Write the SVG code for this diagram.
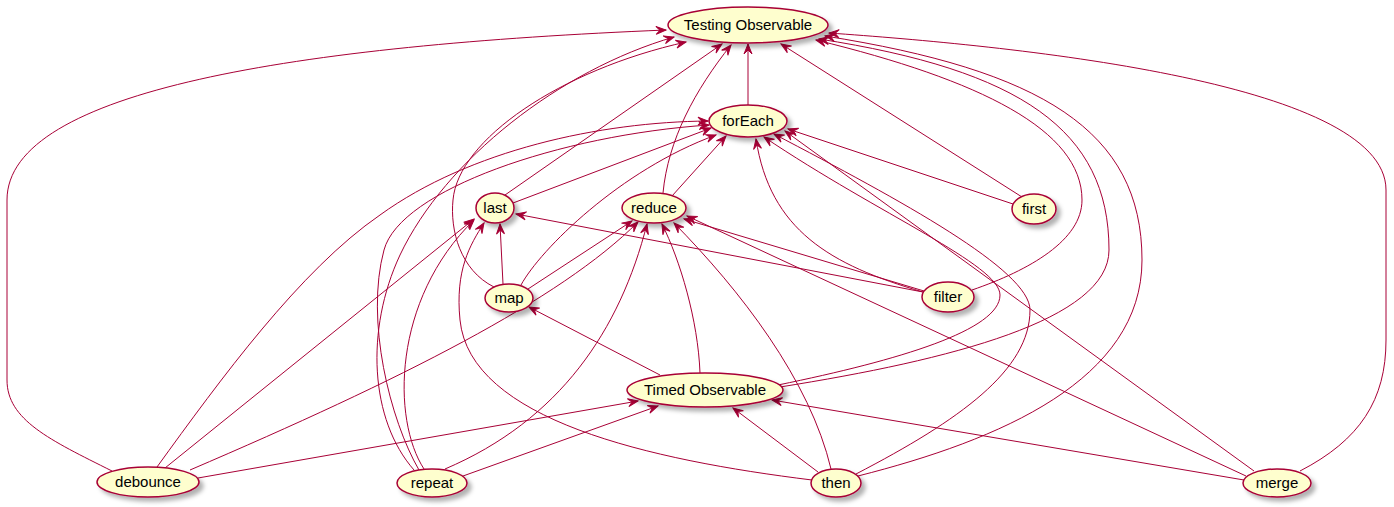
<svg xmlns="http://www.w3.org/2000/svg" width="1394" height="507" viewBox="0 0 1394 507">
<style>
.e{fill:none;stroke:#A80036;stroke-width:1;marker-end:url(#arr)}
.n ellipse{fill:#FEFECE;stroke:#A80036;stroke-width:1.5;filter:url(#sh)}
.n text{font-family:"Liberation Sans","Open Sans",sans-serif;font-size:15px;fill:#000;text-anchor:middle}
</style>
<defs>
<marker id="arr" markerUnits="userSpaceOnUse" viewBox="-1 -1 12 10" refX="10" refY="4" markerWidth="12" markerHeight="10" orient="auto" overflow="visible">
<path d="M0,0 L10,4 L0,8 L4,4 Z" fill="#A80036" stroke="#A80036" stroke-width="1" stroke-linejoin="miter"/>
</marker>
<filter id="sh" x="-20%" y="-30%" width="150%" height="180%">
<feDropShadow dx="4" dy="4" stdDeviation="2" flood-color="#000" flood-opacity="0.3"/>
</filter>
</defs>
<rect width="1394" height="507" fill="#fff"/>
<g id="connectors">
<path class="e" d="M112,471 C50,440 7,420 7,380 L7,200 C7,90 300,45 666,30"/>
<path class="e" d="M748,105 L748,44"/>
<path class="e" d="M505,195 L722,44"/>
<path class="e" d="M494,287 C460,270 450,230 453,200 C458,140 560,70 686,42"/>
<path class="e" d="M414,470 C370,420 365,330 400,255 C445,160 560,70 674,37"/>
<path class="e" d="M663,193 C668,140 695,90 731,45"/>
<path class="e" d="M1022,197 L781,44"/>
<path class="e" d="M972,290 C1030,270 1082,240 1082,200 C1082,130 980,80 816,40"/>
<path class="e" d="M780,387 C950,360 1109,320 1109,250 C1109,130 1020,70 819,39"/>
<path class="e" d="M858,476 C1000,440 1142,380 1142,260 C1142,130 1040,70 825,36"/>
<path class="e" d="M1300,471 C1360,440 1386,400 1386,340 L1386,190 C1386,80 1000,45 829,33"/>
<path class="e" d="M157,467 C220,380 300,270 380,215 C470,150 600,122 708,121"/>
<path class="e" d="M419,470 C390,420 365,320 384,250 C400,190 560,135 709,125"/>
<path class="e" d="M513,203 L711,128"/>
<path class="e" d="M521,285 C540,250 620,170 716,135"/>
<path class="e" d="M672,196 L726,136"/>
<path class="e" d="M923,292 C830,265 770,230 756,139"/>
<path class="e" d="M778,385 C900,360 1000,330 1000,295 C1000,265 880,215 764,137"/>
<path class="e" d="M856,474 C960,420 1030,370 1030,310 C1030,270 900,200 774,134"/>
<path class="e" d="M1254,471 L785,131"/>
<path class="e" d="M1013,204 L788,129"/>
<path class="e" d="M165,468 L474,219"/>
<path class="e" d="M424,469 C392,420 392,300 474,220"/>
<path class="e" d="M812,480 C650,460 470,420 460,320 C455,270 470,245 484,223"/>
<path class="e" d="M503,284 L500,224"/>
<path class="e" d="M923,292 L516,214"/>
<path class="e" d="M528,289 L632,221"/>
<path class="e" d="M190,470 C400,380 560,300 638,222"/>
<path class="e" d="M445,469 C560,420 620,330 647,224"/>
<path class="e" d="M700,373 C698,320 680,260 662,224"/>
<path class="e" d="M831,469 C810,380 740,290 674,223"/>
<path class="e" d="M924,291 L684,219"/>
<path class="e" d="M1246,476 L687,216"/>
<path class="e" d="M660,375 L529,307"/>
<path class="e" d="M198,478 L638,401"/>
<path class="e" d="M463,476 L658,406"/>
<path class="e" d="M818,472 L733,408"/>
<path class="e" d="M1244,480 L772,400"/>
</g>
<g id="node-testing" class="n"><ellipse cx="748" cy="25" rx="80" ry="18"/><text x="748" y="30">Testing Observable</text></g>
<g id="node-foreach" class="n"><ellipse cx="748" cy="121" rx="39" ry="16"/><text x="748" y="126">forEach</text></g>
<g id="node-last" class="n"><ellipse cx="495" cy="208" rx="19" ry="15"/><text x="495" y="213">last</text></g>
<g id="node-reduce" class="n"><ellipse cx="654" cy="208" rx="32" ry="15"/><text x="654" y="213">reduce</text></g>
<g id="node-first" class="n"><ellipse cx="1034" cy="209" rx="22" ry="15"/><text x="1034" y="214">first</text></g>
<g id="node-map" class="n"><ellipse cx="509" cy="298" rx="24" ry="14"/><text x="509" y="303">map</text></g>
<g id="node-filter" class="n"><ellipse cx="948" cy="297" rx="26" ry="15"/><text x="948" y="302">filter</text></g>
<g id="node-timed" class="n"><ellipse cx="705" cy="390" rx="78" ry="17"/><text x="705" y="395">Timed Observable</text></g>
<g id="node-debounce" class="n"><ellipse cx="148" cy="482" rx="51" ry="15"/><text x="148" y="487">debounce</text></g>
<g id="node-repeat" class="n"><ellipse cx="432" cy="483" rx="35" ry="14"/><text x="432" y="488">repeat</text></g>
<g id="node-then" class="n"><ellipse cx="836" cy="483" rx="25" ry="14"/><text x="836" y="488">then</text></g>
<g id="node-merge" class="n"><ellipse cx="1277" cy="483" rx="34" ry="14"/><text x="1277" y="488">merge</text></g>
</svg>
